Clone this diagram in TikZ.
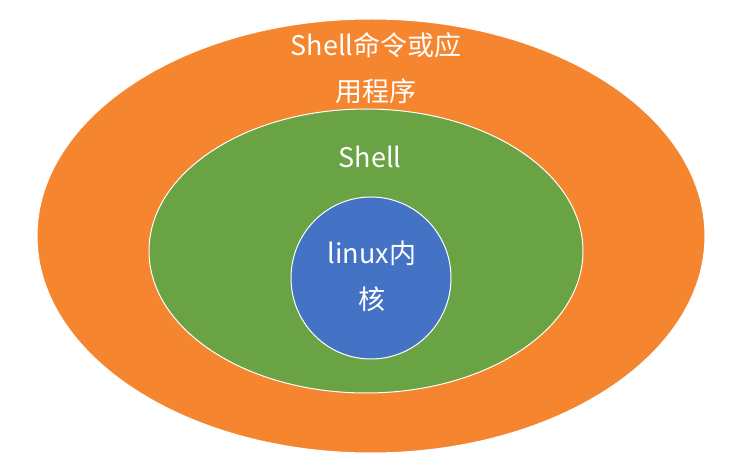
\documentclass[tikz,border=0pt]{standalone}
\usepackage{fontspec}
\setmainfont{Noto Sans CJK SC}
\usetikzlibrary{shapes.geometric}
\definecolor{appOrange}{HTML}{F5852F}
\definecolor{shellGreen}{HTML}{6AA343}
\definecolor{kernelBlue}{HTML}{4472C4}
\tikzset{
  layer/.style={ellipse, draw=white, line width=1pt, inner sep=0pt},
  lbl/.style={text=white, font=\fontsize{27}{46}\selectfont, align=center}
}
\begin{document}
\begin{tikzpicture}[x=1pt,y=-1pt]
  \useasboundingbox (0,0) rectangle (732,470);
  \node (app) [layer, fill=appOrange, minimum width=668, minimum height=434] at (371,236) {};
  \node (shell) [layer, fill=shellGreen, minimum width=434, minimum height=284] at (366,251) {};
  \node (kernel) [layer, fill=kernelBlue, minimum width=160, minimum height=162] at (371,278) {};
  \node (applbl) [lbl] at (376,68) {Shell命令或应\\用程序};
  \node (shelllbl) [lbl] at (370,157) {Shell};
  \node (kernellbl) [lbl] at (372,276) {linux内\\核};
\end{tikzpicture}
\end{document}
